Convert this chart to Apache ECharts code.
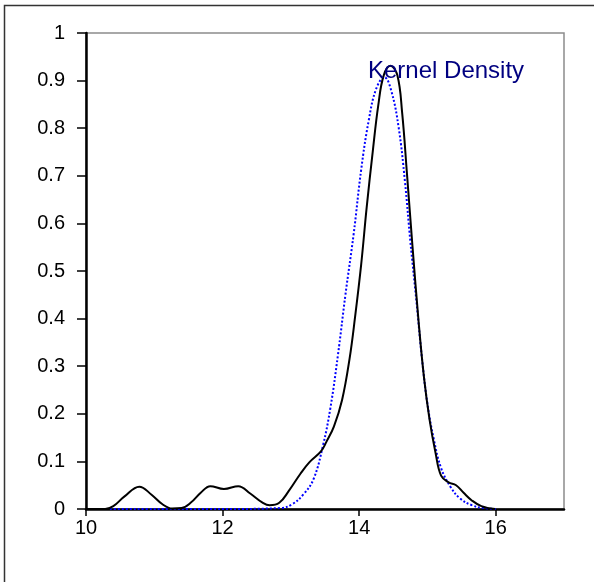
<!DOCTYPE html>
<html>
<head>
<meta charset="utf-8">
<title>Kernel Density</title>
<script src="https://cdn.jsdelivr.net/npm/echarts@6/dist/echarts.min.js"></script>
<style>
  html, body { margin: 0; padding: 0; background: #ffffff; }
  #chart { width: 594px; height: 582px; }
</style>
</head>
<body>
<div id="chart"></div>
<script>
// Empirical kernel density estimate (solid black)
const kdeX = [10.0, 10.28, 10.4, 10.56, 10.78, 10.96, 11.12, 11.26, 11.4, 11.54, 11.68, 11.82, 12.02, 12.23,
  12.41, 12.58, 12.69, 12.83, 12.97, 13.14, 13.27, 13.44, 13.52, 13.63, 13.75, 13.86, 13.94, 14.03, 14.11,
  14.2, 14.28, 14.36, 14.46, 14.56, 14.63, 14.7, 14.78, 14.87, 14.95, 15.03, 15.12, 15.2, 15.31, 15.42,
  15.53, 15.65, 15.79, 15.99];
const kdeY = [0.0, 0.0, 0.006, 0.026, 0.047, 0.030, 0.010, 0.001, 0.002, 0.014, 0.034, 0.048, 0.042, 0.048,
  0.032, 0.014, 0.008, 0.013, 0.038, 0.074, 0.098, 0.121, 0.141, 0.173, 0.229, 0.316, 0.403, 0.514, 0.633,
  0.752, 0.848, 0.911, 0.931, 0.911, 0.832, 0.705, 0.554, 0.395, 0.276, 0.189, 0.117, 0.070, 0.056, 0.050,
  0.034, 0.018, 0.006, 0.0];

// Fitted normal density (blue dotted)
const normX = [10.35, 12.0, 12.85, 13.02, 13.18, 13.33, 13.47, 13.58, 13.69, 13.8, 13.92, 14.03, 14.14, 14.25,
  14.37, 14.47, 14.58, 14.67, 14.75, 14.84, 14.92, 15.0, 15.09, 15.2, 15.34, 15.48, 15.65, 15.82, 16.0];
const normY = [0.0, 0.0, 0.002, 0.010, 0.030, 0.062, 0.133, 0.213, 0.324, 0.451, 0.578, 0.713, 0.816, 0.883,
  0.907, 0.879, 0.800, 0.689, 0.562, 0.435, 0.316, 0.221, 0.149, 0.086, 0.046, 0.022, 0.008, 0.002, 0.0];

const xTicks = [10, 12, 14, 16];
const yMin = 0, yMax = 1, yStep = 0.1;
const xMin = 10, xMax = 17;
const labelText = 'Kernel Density';

const pairs = (xs, ys) => xs.map((x, i) => [x, ys[i]]);

const chart = echarts.init(document.getElementById('chart'), null, { renderer: 'canvas' });
const font = '"Liberation Sans", Arial, Helvetica, sans-serif';

chart.setOption({
  animation: false,
  backgroundColor: '#ffffff',
  textStyle: { fontFamily: font },
  grid: {
    left: 86, right: 30, top: 33, bottom: 73,
    show: true,
    borderColor: '#8c8c8c',
    borderWidth: 1.5,
    backgroundColor: 'transparent'
  },
  xAxis: {
    type: 'value',
    min: xMin, max: xMax, interval: 2,
    axisLine: { show: true, onZero: false, lineStyle: { color: '#000', width: 2.5 } },
    axisTick: { show: true, length: 7, customValues: xTicks, lineStyle: { color: '#000', width: 1.5 } },
    axisLabel: { customValues: xTicks, margin: 9, color: '#000', fontSize: 20, fontFamily: font },
    splitLine: { show: false }
  },
  yAxis: {
    type: 'value',
    min: yMin, max: yMax, interval: yStep,
    axisLine: { show: true, onZero: false, lineStyle: { color: '#000', width: 2.5 } },
    axisTick: { show: true, length: 9, lineStyle: { color: '#000', width: 1.5 } },
    axisLabel: { margin: 21, color: '#000', fontSize: 20, fontFamily: font },
    splitLine: { show: false }
  },
  series: [
    {
      name: 'Normal',
      type: 'line',
      data: pairs(normX, normY),
      smooth: 0.4,
      showSymbol: false,
      z: 2,
      lineStyle: { color: '#0000ff', width: 2, type: [2, 2] }
    },
    {
      name: 'Kernel',
      type: 'line',
      data: pairs(kdeX, kdeY),
      smooth: 0.4,
      showSymbol: false,
      z: 3,
      lineStyle: { color: '#000000', width: 2 }
    }
  ],
  graphic: [
    {
      type: 'rect',
      silent: true,
      shape: { x: 4.5, y: 5.5, width: 640, height: 640 },
      style: { fill: 'none', stroke: '#333', lineWidth: 1.5 }
    },
    {
      type: 'text',
      left: 368, top: 59, z: 10,
      style: { text: labelText, fill: '#000080', font: '24px ' + font }
    }
  ]
});
</script>
</body>
</html>
